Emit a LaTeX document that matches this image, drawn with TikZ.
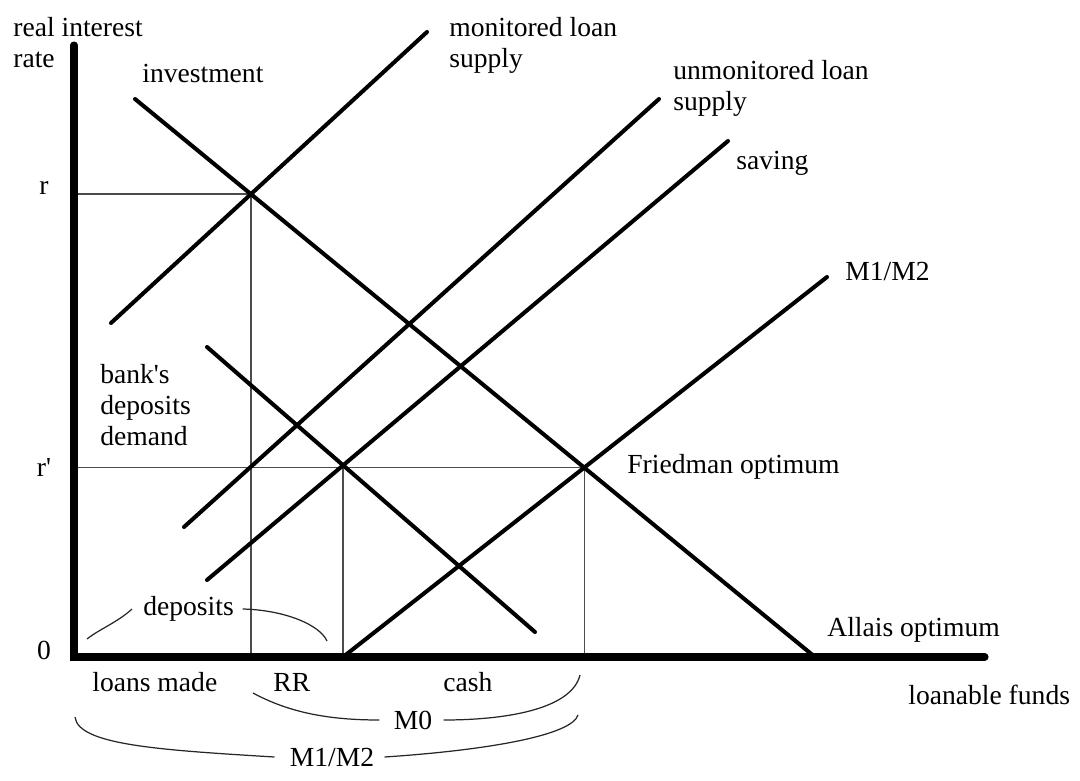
\documentclass[tikz,border=0pt]{standalone}
\usepackage{fontspec}
\setmainfont{Liberation Serif}
\usepackage{tikz}
\usetikzlibrary{positioning}
\tikzstyle{axis}=[line width=4pt,line cap=round]
\tikzstyle{curve}=[line width=2.3pt,line cap=round]
\tikzstyle{guide}=[line width=0.8pt,black!70]
\tikzstyle{brace}=[line width=0.7pt,black!85]
\tikzstyle{lbl}=[inner sep=0,font=\fontsize{15.7}{17.6}\selectfont]

\begin{document}
\begin{tikzpicture}[x=0.2mm,y=0.2mm]
  \useasboundingbox (0,0) rectangle (1080,780);

  % POINTS
  \coordinate (O)    at (74,123);
  \coordinate (ytop) at (74,735);
  \coordinate (xend) at (985,123);
  \coordinate (inv1) at (135,681); \coordinate (inv2) at (815,123);
  \coordinate (mon1) at (111,457); \coordinate (mon2) at (427,748);
  \coordinate (unm1) at (184,253); \coordinate (unm2) at (659,681);
  \coordinate (sav1) at (207,200); \coordinate (sav2) at (728,639);
  \coordinate (mm1)  at (343,123); \coordinate (mm2)  at (827,503);
  \coordinate (bdd1) at (207,433); \coordinate (bdd2) at (535,148);
  \coordinate (E) at (intersection of inv1--inv2 and mon1--mon2);
  \coordinate (F) at (intersection of inv1--inv2 and mm1--mm2);
  \coordinate (D) at (intersection of bdd1--bdd2 and sav1--sav2);

  % GUIDES
  \draw[guide] (O |- E) -- (E) -- (E |- O);
  \draw[guide] (O |- F) -- (F) -- (F |- O);
  \draw[guide] (D) -- (D |- O);

  % CURVES
  \draw[curve] (inv1) -- (inv2);
  \draw[curve] (mon1) -- (mon2);
  \draw[curve] (unm1) -- (unm2);
  \draw[curve] (sav1) -- (sav2);
  \draw[curve] (mm1) -- (mm2);
  \draw[curve] (bdd1) -- (bdd2);

  % AXIS
  \draw[axis] (ytop) -- (O) -- (xend);

  % LABELS
  \node[lbl,anchor=west,align=left] (ylab) at (13,737) {real interest\\rate};
  \node[lbl,anchor=west] (invlab) at (142,706) {investment};
  \node[lbl,anchor=west,align=left] (monlab) at (449,735) {monitored loan\\supply};
  \node[lbl,anchor=west,align=left] (unmlab) at (673,692) {unmonitored loan\\supply};
  \node[lbl,anchor=west] (savlab) at (736,617) {saving};
  \node[lbl,anchor=west] (mmlab) at (845,508) {M1/M2};
  \node[lbl] (rlab) at (44,592) {r};
  \node[lbl] (rplab) at (44,313) {r\textquotesingle};
  \node[lbl] (zero) at (44,130) {0};
  \node[lbl,anchor=west,align=left] (bddlab) at (100,375) {bank\textquotesingle s\\deposits\\demand};
  \node[lbl,anchor=west] (fried) at (627,313) {Friedman optimum};
  \node[lbl,anchor=west] (allais) at (827,150) {Allais optimum};
  \node[lbl,anchor=west] (dep) at (143,171) {deposits};
  \node[lbl,anchor=west] (loans) at (92,98) {loans made};
  \node[lbl,anchor=west] (rr) at (273,98) {RR};
  \node[lbl,anchor=west] (cash) at (443,98) {cash};
  \node[lbl,anchor=west] (lf) at (908,85) {loanable funds};
  \node[lbl] (m0) at (413,60) {M0};
  \node[lbl] (m12) at (332,23) {M1/M2};

  % BRACES
  \coordinate (depl) at (87,141);  \coordinate (depr) at (327,139);
  \coordinate (m0l)  at (253,87);  \coordinate (m0r)  at (580,105);
  \coordinate (m12l) at (75,63);   \coordinate (m12r) at (578,65);
  \draw[brace] ([xshift=-2.2mm]dep.west) .. controls (118,158) and (98,150) .. (depl);
  \draw[brace] ([xshift=1.7mm]dep.east) .. controls (285,170) and (320,155) .. (depr);
  \draw[brace] (m0l) .. controls (290,67) and (330,60) .. ([xshift=-2.8mm]m0.west);
  \draw[brace] ([xshift=2.2mm]m0.east) .. controls (510,60) and (572,72) .. (m0r);
  \draw[brace] (m12l) .. controls (78,35) and (160,30) .. ([xshift=-3mm]m12.west);
  \draw[brace] ([xshift=2mm]m12.east) .. controls (490,30) and (572,45) .. (m12r);

\end{tikzpicture}
\end{document}
